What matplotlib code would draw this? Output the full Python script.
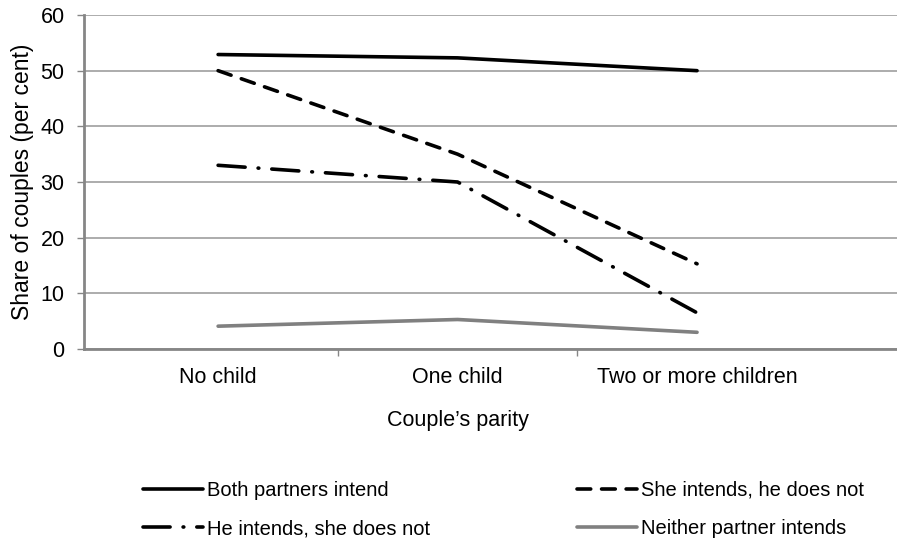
import matplotlib
matplotlib.use("Agg")
import matplotlib.pyplot as plt
from matplotlib.lines import Line2D

plt.rcParams['font.family'] = ['Liberation Sans', 'DejaVu Sans']

categories = ["No child", "One child", "Two or more children"]
both_intend = [52.9, 52.3, 50.0]
she_intends = [50.0, 35.0, 15.3]
he_intends = [33.0, 30.0, 6.5]
neither_intends = [4.1, 5.3, 3.0]
series_labels = ["Both partners intend", "She intends, he does not",
                 "He intends, she does not", "Neither partner intends"]

fig = plt.figure(figsize=(8.97, 5.48), dpi=100)
ax = fig.add_axes([84/897, 1 - 349/548, 1 - 84/897, (349 - 15)/548])

x = list(range(len(categories)))
lw = 2.6
styles = [
    dict(color='black', lw=lw, ls='-', solid_capstyle='round'),
    dict(color='black', lw=lw, ls=(0, (3.8, 3.0)), dash_capstyle='round'),
    dict(color='black', lw=lw, ls=(0, (7.5, 3.6, 0.2, 3.6)), dash_capstyle='round'),
    dict(color='#808080', lw=lw, ls='-', solid_capstyle='round'),
]
data = [both_intend, she_intends, he_intends, neither_intends]
for vals, st in zip(data, styles):
    ax.plot(x, vals, **st, zorder=3)

ax.set_ylim(0, 60)
ax.set_yticks(range(0, 61, 10))
ax.set_xlim(-0.56, 2.835)
ax.set_xticks([0.5, 1.5])
ax.set_xticklabels([])
ax.tick_params(axis='x', length=5, width=1, color='#868686', direction='out')
ax.tick_params(axis='y', length=5, width=1, color='#868686', direction='out', labelsize=15.5, pad=9)
for i, c in enumerate(categories):
    ax.text(i, -3.3, c, ha='center', va='top', fontsize=15.5)
ax.text(1, -11.0, "Couple\u2019s parity", ha='center', va='top', fontsize=15.5)
ax.set_ylabel("Share of couples (per cent)", fontsize=16.5)
ax.yaxis.set_label_coords(-0.062, 0.5)

ax.grid(axis='y', color='#a6a6a6', lw=1.3)
ax.set_axisbelow(True)
for s in ['top', 'right']:
    ax.spines[s].set_visible(False)
for s in ['left', 'bottom']:
    ax.spines[s].set_color('#868686')
    ax.spines[s].set_linewidth(2)

handles = [Line2D([], [], **st) for st in styles]
col_x = [143/897, 577/897]
for col, idx in zip(col_x, [(0, 2), (1, 3)]):
    fig.legend([handles[i] for i in idx], [series_labels[i] for i in idx],
               loc='upper left', bbox_to_anchor=(col, 1 - 481/548),
               frameon=False, fontsize=14.5, handlelength=3.0,
               handletextpad=0.2, labelspacing=0.95,
               borderaxespad=0, borderpad=0)

fig.savefig("out.png", dpi=100)
